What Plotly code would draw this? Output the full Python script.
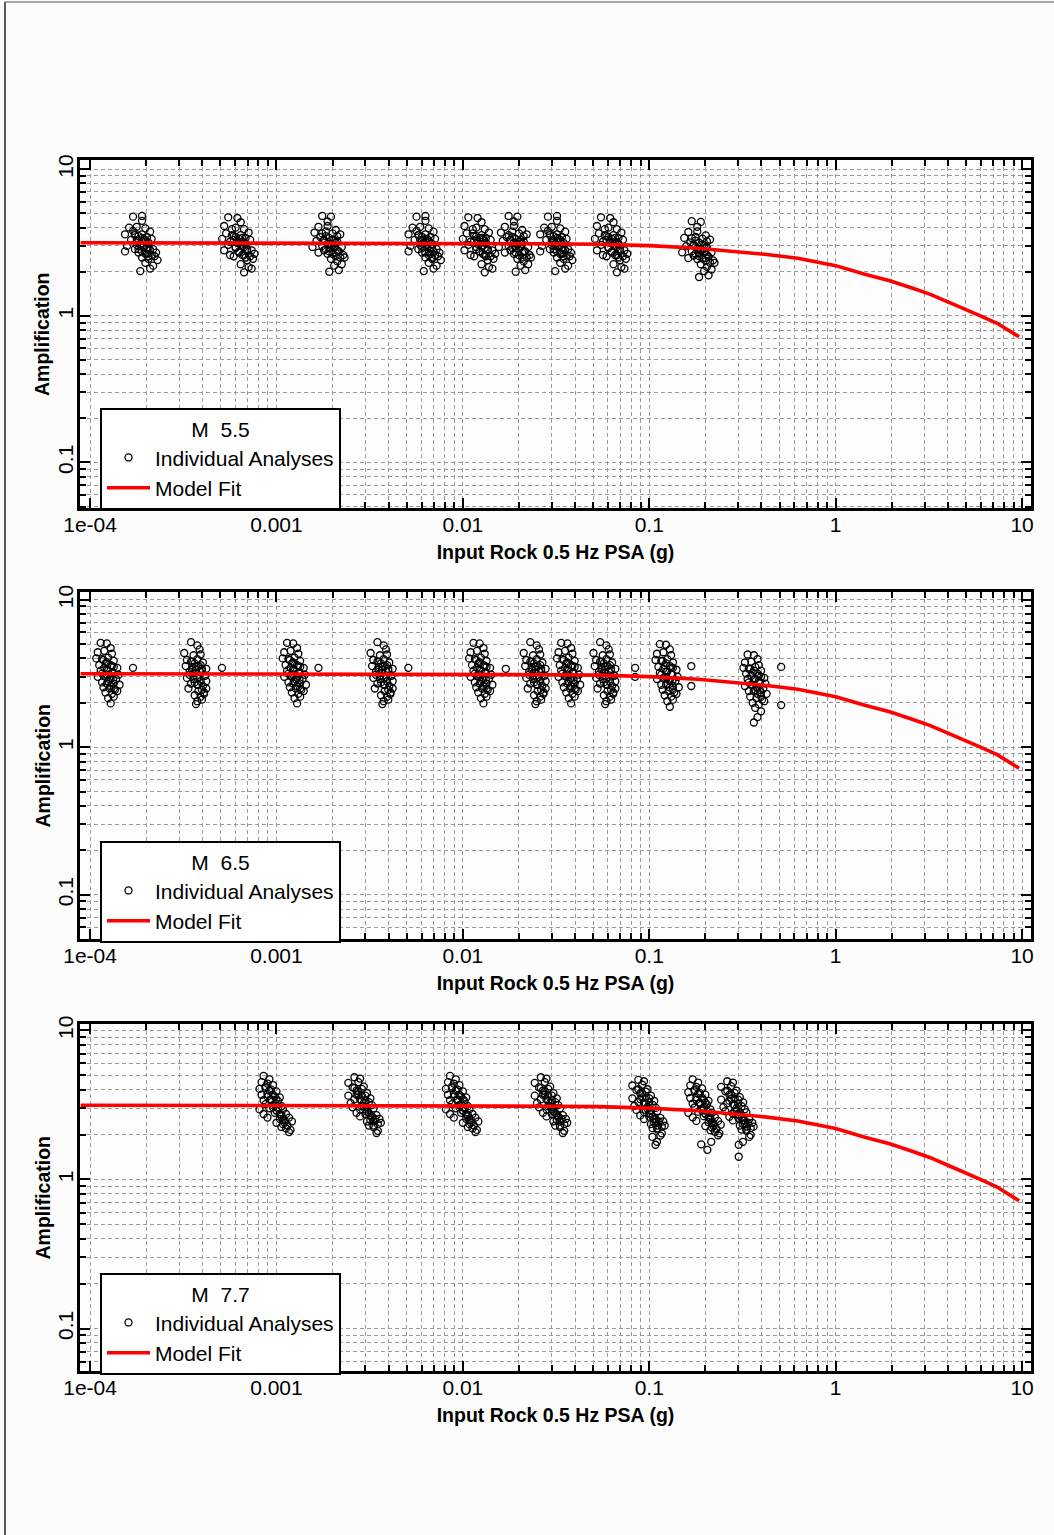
import plotly.graph_objects as go

# ---------------------------------------------------------------- axis ticks
PSA_TICK_VALS = [1e-4, 1e-3, 1e-2, 1e-1, 1, 10]
PSA_TICK_TEXT = ["1e-04", "0.001", "0.01", "0.1", "1", "10"]
AMP_TICK_VALS = [0.1, 1, 10]
AMP_TICK_TEXT = ["0.1", "1", "10"]
MINOR_DIGITS = [2, 3, 4, 5, 6, 7, 8, 9]
PSA_DECADES = [1e-4, 1e-3, 1e-2, 1e-1, 1]
AMP_DECADES = [0.01, 0.1, 1]

MAGNITUDES = ["5.5", "6.5", "7.7"]

# ---------------------------------------------------------------- model fit
FIT_PSA = [8.9e-5, 1e-3, 0.01, 0.03, 0.053, 0.1, 0.183, 0.3, 0.416, 0.626, 1.0,
           1.42, 1.97, 2.64, 3.22, 3.97, 4.9, 5.98, 7.35, 9.64]
FIT_AMP = [3.15, 3.14, 3.12, 3.10, 3.08, 3.01, 2.89, 2.75, 2.63, 2.47, 2.20,
           1.93, 1.73, 1.53, 1.40, 1.25, 1.12, 1.00, 0.89, 0.72]

# ---------------------------------------------------------------- M 5.5 analyses
M55_PSA = [
    1.70e-4, 1.90e-4, 1.90e-4, 1.62e-4, 1.78e-4, 1.98e-4, 2.10e-4, 1.54e-4, 1.74e-4, 1.90e-4, 2.02e-4, 1.66e-4,
    1.82e-4, 1.98e-4, 2.14e-4, 1.58e-4, 1.78e-4, 1.94e-4, 2.06e-4, 2.18e-4, 1.54e-4, 1.82e-4, 2.02e-4, 2.14e-4,
    2.26e-4, 1.90e-4, 2.06e-4, 2.22e-4, 1.98e-4, 2.18e-4, 1.86e-4, 2.10e-4, 2.30e-4, 1.70e-4, 1.94e-4, 1.74e-4,
    5.51e-4, 6.17e-4, 6.43e-4, 5.24e-4, 6.04e-4, 6.70e-4, 7.09e-4, 5.37e-4, 5.90e-4, 6.43e-4, 6.83e-4, 5.11e-4,
    6.17e-4, 6.70e-4, 7.23e-4, 5.51e-4, 6.04e-4, 6.56e-4, 6.96e-4, 7.36e-4, 5.24e-4, 6.30e-4, 6.70e-4, 7.23e-4,
    7.62e-4, 5.90e-4, 6.96e-4, 7.49e-4, 6.43e-4, 7.09e-4, 6.70e-4, 7.36e-4, 5.64e-4, 5.77e-4, 6.56e-4, 5.64e-4,
    1.76e-3, 1.96e-3, 1.88e-3, 1.68e-3, 1.88e-3, 2.08e-3, 2.20e-3, 1.60e-3, 1.72e-3, 2.00e-3, 2.12e-3, 1.64e-3,
    1.80e-3, 1.96e-3, 2.12e-3, 1.56e-3, 1.76e-3, 1.92e-3, 2.04e-3, 2.24e-3, 1.68e-3, 1.88e-3, 2.08e-3, 2.20e-3,
    2.28e-3, 1.96e-3, 2.12e-3, 2.32e-3, 2.04e-3, 2.24e-3, 1.92e-3, 2.16e-3, 1.84e-3, 2.04e-3, 1.80e-3, 2.16e-3,
    5.64e-3, 6.30e-3, 6.30e-3, 5.37e-3, 5.90e-3, 6.56e-3, 6.96e-3, 5.11e-3, 5.77e-3, 6.30e-3, 6.70e-3, 5.51e-3,
    6.04e-3, 6.56e-3, 7.09e-3, 5.24e-3, 5.90e-3, 6.43e-3, 6.83e-3, 7.23e-3, 5.11e-3, 6.04e-3, 6.70e-3, 7.09e-3,
    7.49e-3, 6.30e-3, 6.83e-3, 7.36e-3, 6.56e-3, 7.23e-3, 6.17e-3, 6.96e-3, 7.62e-3, 5.64e-3, 6.43e-3, 5.77e-3,
    1.07e-2, 1.20e-2, 1.26e-2, 1.02e-2, 1.18e-2, 1.31e-2, 1.38e-2, 1.05e-2, 1.15e-2, 1.26e-2, 1.33e-2, 1.00e-2,
    1.20e-2, 1.31e-2, 1.41e-2, 1.07e-2, 1.18e-2, 1.28e-2, 1.36e-2, 1.44e-2, 1.02e-2, 1.23e-2, 1.31e-2, 1.41e-2,
    1.49e-2, 1.15e-2, 1.36e-2, 1.46e-2, 1.26e-2, 1.38e-2, 1.31e-2, 1.44e-2, 1.10e-2, 1.13e-2, 1.28e-2, 1.10e-2,
    1.76e-2, 1.96e-2, 1.88e-2, 1.68e-2, 1.88e-2, 2.08e-2, 2.20e-2, 1.60e-2, 1.72e-2, 2.00e-2, 2.12e-2, 1.64e-2,
    1.80e-2, 1.96e-2, 2.12e-2, 1.56e-2, 1.76e-2, 1.92e-2, 2.04e-2, 2.24e-2, 1.68e-2, 1.88e-2, 2.08e-2, 2.20e-2,
    2.28e-2, 1.96e-2, 2.12e-2, 2.32e-2, 2.04e-2, 2.24e-2, 1.92e-2, 2.16e-2, 1.84e-2, 2.04e-2, 1.80e-2, 2.16e-2,
    2.86e-2, 3.20e-2, 3.20e-2, 2.73e-2, 3.00e-2, 3.33e-2, 3.54e-2, 2.60e-2, 2.93e-2, 3.20e-2, 3.40e-2, 2.80e-2,
    3.07e-2, 3.33e-2, 3.60e-2, 2.66e-2, 3.00e-2, 3.27e-2, 3.47e-2, 3.67e-2, 2.60e-2, 3.07e-2, 3.40e-2, 3.60e-2,
    3.80e-2, 3.20e-2, 3.47e-2, 3.74e-2, 3.33e-2, 3.67e-2, 3.13e-2, 3.54e-2, 3.87e-2, 2.86e-2, 3.27e-2, 2.93e-2,
    5.51e-2, 6.17e-2, 6.43e-2, 5.24e-2, 6.04e-2, 6.70e-2, 7.09e-2, 5.37e-2, 5.90e-2, 6.43e-2, 6.83e-2, 5.11e-2,
    6.17e-2, 6.70e-2, 7.23e-2, 5.51e-2, 6.04e-2, 6.56e-2, 6.96e-2, 7.36e-2, 5.24e-2, 6.30e-2, 6.70e-2, 7.23e-2,
    7.62e-2, 5.90e-2, 6.96e-2, 7.49e-2, 6.43e-2, 7.09e-2, 6.70e-2, 7.36e-2, 5.64e-2, 5.77e-2, 6.56e-2, 5.64e-2,
    1.69e-1, 1.89e-1, 1.81e-1, 1.62e-1, 1.81e-1, 2.01e-1, 2.12e-1, 1.54e-1, 1.66e-1, 1.93e-1, 2.04e-1, 1.58e-1,
    1.73e-1, 1.89e-1, 2.04e-1, 1.50e-1, 1.69e-1, 1.85e-1, 1.97e-1, 2.16e-1, 1.62e-1, 1.81e-1, 2.01e-1, 2.12e-1,
    2.20e-1, 1.89e-1, 2.04e-1, 2.24e-1, 1.97e-1, 2.16e-1, 1.85e-1, 2.08e-1, 1.77e-1, 1.97e-1, 1.73e-1, 2.08e-1,
    # dense cores of each group
    1.74e-4, 1.82e-4, 1.90e-4, 1.98e-4, 2.06e-4, 1.78e-4, 1.86e-4, 1.94e-4, 2.02e-4, 2.10e-4, 1.82e-4, 1.90e-4, 1.98e-4, 2.06e-4,
    5.77e-4, 6.04e-4, 6.30e-4, 6.56e-4, 6.83e-4, 5.90e-4, 6.17e-4, 6.43e-4, 6.70e-4, 6.96e-4, 6.04e-4, 6.30e-4, 6.56e-4, 6.83e-4,
    1.76e-3, 1.84e-3, 1.92e-3, 2.00e-3, 2.08e-3, 1.80e-3, 1.88e-3, 1.96e-3, 2.04e-3, 2.12e-3, 1.84e-3, 1.92e-3, 2.00e-3, 2.08e-3,
    5.77e-3, 6.04e-3, 6.30e-3, 6.56e-3, 6.83e-3, 5.90e-3, 6.17e-3, 6.43e-3, 6.70e-3, 6.96e-3, 6.04e-3, 6.30e-3, 6.56e-3, 6.83e-3,
    1.13e-2, 1.18e-2, 1.23e-2, 1.28e-2, 1.33e-2, 1.15e-2, 1.20e-2, 1.26e-2, 1.31e-2, 1.36e-2, 1.18e-2, 1.23e-2, 1.28e-2, 1.33e-2,
    1.76e-2, 1.84e-2, 1.92e-2, 2.00e-2, 2.08e-2, 1.80e-2, 1.88e-2, 1.96e-2, 2.04e-2, 2.12e-2, 1.84e-2, 1.92e-2, 2.00e-2, 2.08e-2,
    2.93e-2, 3.07e-2, 3.20e-2, 3.33e-2, 3.47e-2, 3.00e-2, 3.13e-2, 3.27e-2, 3.40e-2, 3.54e-2, 3.07e-2, 3.20e-2, 3.33e-2, 3.47e-2,
    5.77e-2, 6.04e-2, 6.30e-2, 6.56e-2, 6.83e-2, 5.90e-2, 6.17e-2, 6.43e-2, 6.70e-2, 6.96e-2, 6.04e-2, 6.30e-2, 6.56e-2, 6.83e-2,
    1.69e-1, 1.77e-1, 1.85e-1, 1.93e-1, 2.01e-1, 1.73e-1, 1.81e-1, 1.89e-1, 1.97e-1, 2.04e-1, 1.77e-1, 1.85e-1, 1.93e-1, 2.01e-1,
]
M55_AMP = [
    4.75, 4.80, 4.45, 4.00, 4.05, 3.95, 3.75, 3.60, 3.55, 3.60, 3.45, 3.30,
    3.25, 3.20, 3.35, 3.00, 3.05, 2.95, 2.90, 2.85, 2.75, 2.70, 2.65, 2.60,
    2.70, 2.50, 2.45, 2.55, 2.30, 2.20, 2.02, 2.10, 2.40, 3.80, 3.35, 2.85,
    4.70, 4.65, 4.35, 4.10, 4.00, 3.90, 3.70, 3.65, 3.50, 3.55, 3.40, 3.35,
    3.20, 3.15, 3.30, 3.05, 2.95, 3.00, 2.85, 2.80, 2.80, 2.75, 2.60, 2.55,
    2.65, 2.55, 2.40, 2.45, 2.25, 2.15, 1.98, 2.10, 2.60, 3.90, 3.40, 3.20,
    4.80, 4.75, 4.40, 4.05, 4.10, 3.85, 3.60, 3.70, 3.45, 3.65, 3.50, 3.25,
    3.30, 3.10, 3.20, 2.95, 3.00, 2.90, 2.95, 2.95, 2.70, 2.65, 2.70, 2.50,
    2.60, 2.45, 2.35, 2.50, 2.20, 2.25, 2.00, 2.05, 3.75, 3.30, 2.80, 2.75,
    4.75, 4.80, 4.45, 4.00, 4.05, 3.95, 3.75, 3.60, 3.55, 3.60, 3.45, 3.30,
    3.25, 3.20, 3.35, 3.00, 3.05, 2.95, 2.90, 2.85, 2.75, 2.70, 2.65, 2.60,
    2.70, 2.50, 2.45, 2.55, 2.30, 2.20, 2.02, 2.10, 2.40, 3.80, 3.35, 2.85,
    4.70, 4.65, 4.35, 4.10, 4.00, 3.90, 3.70, 3.65, 3.50, 3.55, 3.40, 3.35,
    3.20, 3.15, 3.30, 3.05, 2.95, 3.00, 2.85, 2.80, 2.80, 2.75, 2.60, 2.55,
    2.65, 2.55, 2.40, 2.45, 2.25, 2.15, 1.98, 2.10, 2.60, 3.90, 3.40, 3.20,
    4.80, 4.75, 4.40, 4.05, 4.10, 3.85, 3.60, 3.70, 3.45, 3.65, 3.50, 3.25,
    3.30, 3.10, 3.20, 2.95, 3.00, 2.90, 2.95, 2.95, 2.70, 2.65, 2.70, 2.50,
    2.60, 2.45, 2.35, 2.50, 2.20, 2.25, 2.00, 2.05, 3.75, 3.30, 2.80, 2.75,
    4.75, 4.80, 4.45, 4.00, 4.05, 3.95, 3.75, 3.60, 3.55, 3.60, 3.45, 3.30,
    3.25, 3.20, 3.35, 3.00, 3.05, 2.95, 2.90, 2.85, 2.75, 2.70, 2.65, 2.60,
    2.70, 2.50, 2.45, 2.55, 2.30, 2.20, 2.02, 2.10, 2.40, 3.80, 3.35, 2.85,
    4.70, 4.65, 4.35, 4.10, 4.00, 3.90, 3.70, 3.65, 3.50, 3.55, 3.40, 3.35,
    3.20, 3.15, 3.30, 3.05, 2.95, 3.00, 2.85, 2.80, 2.80, 2.75, 2.60, 2.55,
    2.65, 2.55, 2.40, 2.45, 2.25, 2.15, 1.98, 2.10, 2.60, 3.90, 3.40, 3.20,
    4.42, 4.37, 4.05, 3.73, 3.77, 3.54, 3.31, 3.40, 3.17, 3.36, 3.22, 2.99,
    3.04, 2.85, 2.94, 2.71, 2.76, 2.67, 2.71, 2.71, 2.48, 2.44, 2.48, 2.30,
    2.39, 2.25, 2.16, 2.30, 2.02, 2.07, 1.84, 1.89, 3.45, 3.04, 2.58, 2.53,
    # dense cores of each group
    3.65, 3.50, 3.40, 3.30, 3.15, 3.25, 3.10, 3.00, 2.90, 2.80, 2.85, 2.75, 2.65, 2.55,
    3.55, 3.45, 3.35, 3.20, 3.10, 3.30, 3.15, 3.05, 2.95, 2.75, 2.90, 2.70, 2.60, 2.50,
    3.65, 3.50, 3.40, 3.30, 3.15, 3.25, 3.10, 3.00, 2.90, 2.80, 2.85, 2.75, 2.65, 2.55,
    3.55, 3.45, 3.35, 3.20, 3.10, 3.30, 3.15, 3.05, 2.95, 2.75, 2.90, 2.70, 2.60, 2.50,
    3.65, 3.50, 3.40, 3.30, 3.15, 3.25, 3.10, 3.00, 2.90, 2.80, 2.85, 2.75, 2.65, 2.55,
    3.55, 3.45, 3.35, 3.20, 3.10, 3.30, 3.15, 3.05, 2.95, 2.75, 2.90, 2.70, 2.60, 2.50,
    3.65, 3.50, 3.40, 3.30, 3.15, 3.25, 3.10, 3.00, 2.90, 2.80, 2.85, 2.75, 2.65, 2.55,
    3.55, 3.45, 3.35, 3.20, 3.10, 3.30, 3.15, 3.05, 2.95, 2.75, 2.90, 2.70, 2.60, 2.50,
    3.39, 3.26, 3.16, 3.07, 2.93, 3.02, 2.88, 2.79, 2.70, 2.60, 2.65, 2.56, 2.46, 2.37,
]

# ---------------------------------------------------------------- M 6.5 analyses
M65_PSA = [
    1.14e-4, 1.23e-4, 1.29e-4, 1.10e-4, 1.19e-4, 1.31e-4, 1.08e-4, 1.16e-4, 1.25e-4, 1.34e-4, 1.12e-4, 1.21e-4,
    1.31e-4, 1.40e-4, 1.14e-4, 1.23e-4, 1.33e-4, 1.42e-4, 1.10e-4, 1.19e-4, 1.29e-4, 1.38e-4, 1.16e-4, 1.25e-4,
    1.34e-4, 1.44e-4, 1.18e-4, 1.27e-4, 1.36e-4, 1.21e-4, 1.31e-4, 1.40e-4, 1.25e-4, 1.34e-4, 1.29e-4, 1.23e-4,
    3.48e-4, 3.76e-4, 3.87e-4, 3.20e-4, 3.59e-4, 3.92e-4, 3.31e-4, 3.53e-4, 3.76e-4, 4.03e-4, 3.26e-4, 3.70e-4,
    3.92e-4, 4.20e-4, 3.42e-4, 3.64e-4, 3.98e-4, 4.14e-4, 3.31e-4, 3.59e-4, 3.87e-4, 4.20e-4, 3.48e-4, 3.76e-4,
    4.03e-4, 4.20e-4, 3.37e-4, 3.81e-4, 4.09e-4, 3.64e-4, 3.92e-4, 4.09e-4, 3.76e-4, 3.98e-4, 3.70e-4, 3.53e-4,
    1.14e-3, 1.23e-3, 1.29e-3, 1.10e-3, 1.19e-3, 1.31e-3, 1.08e-3, 1.16e-3, 1.25e-3, 1.34e-3, 1.12e-3, 1.21e-3,
    1.31e-3, 1.40e-3, 1.14e-3, 1.23e-3, 1.33e-3, 1.42e-3, 1.10e-3, 1.19e-3, 1.29e-3, 1.38e-3, 1.16e-3, 1.25e-3,
    1.34e-3, 1.44e-3, 1.18e-3, 1.27e-3, 1.36e-3, 1.21e-3, 1.31e-3, 1.40e-3, 1.25e-3, 1.34e-3, 1.29e-3, 1.23e-3,
    3.48e-3, 3.76e-3, 3.87e-3, 3.20e-3, 3.59e-3, 3.92e-3, 3.31e-3, 3.53e-3, 3.76e-3, 4.03e-3, 3.26e-3, 3.70e-3,
    3.92e-3, 4.20e-3, 3.42e-3, 3.64e-3, 3.98e-3, 4.14e-3, 3.31e-3, 3.59e-3, 3.87e-3, 4.20e-3, 3.48e-3, 3.76e-3,
    4.03e-3, 4.20e-3, 3.37e-3, 3.81e-3, 4.09e-3, 3.64e-3, 3.92e-3, 4.09e-3, 3.76e-3, 3.98e-3, 3.70e-3, 3.53e-3,
    1.14e-2, 1.23e-2, 1.29e-2, 1.10e-2, 1.19e-2, 1.31e-2, 1.08e-2, 1.16e-2, 1.25e-2, 1.34e-2, 1.12e-2, 1.21e-2,
    1.31e-2, 1.40e-2, 1.14e-2, 1.23e-2, 1.33e-2, 1.42e-2, 1.10e-2, 1.19e-2, 1.29e-2, 1.38e-2, 1.16e-2, 1.25e-2,
    1.34e-2, 1.44e-2, 1.18e-2, 1.27e-2, 1.36e-2, 1.21e-2, 1.31e-2, 1.40e-2, 1.25e-2, 1.34e-2, 1.29e-2, 1.23e-2,
    2.30e-2, 2.49e-2, 2.56e-2, 2.12e-2, 2.38e-2, 2.60e-2, 2.19e-2, 2.34e-2, 2.49e-2, 2.67e-2, 2.16e-2, 2.45e-2,
    2.60e-2, 2.78e-2, 2.27e-2, 2.41e-2, 2.63e-2, 2.74e-2, 2.19e-2, 2.38e-2, 2.56e-2, 2.78e-2, 2.30e-2, 2.49e-2,
    2.67e-2, 2.78e-2, 2.23e-2, 2.52e-2, 2.71e-2, 2.41e-2, 2.60e-2, 2.71e-2, 2.49e-2, 2.63e-2, 2.45e-2, 2.34e-2,
    3.37e-2, 3.64e-2, 3.81e-2, 3.26e-2, 3.53e-2, 3.87e-2, 3.20e-2, 3.42e-2, 3.70e-2, 3.98e-2, 3.31e-2, 3.59e-2,
    3.87e-2, 4.14e-2, 3.37e-2, 3.64e-2, 3.92e-2, 4.20e-2, 3.26e-2, 3.53e-2, 3.81e-2, 4.09e-2, 3.42e-2, 3.70e-2,
    3.98e-2, 4.26e-2, 3.48e-2, 3.76e-2, 4.03e-2, 3.59e-2, 3.87e-2, 4.14e-2, 3.70e-2, 3.98e-2, 3.81e-2, 3.64e-2,
    5.45e-2, 5.89e-2, 6.06e-2, 5.02e-2, 5.63e-2, 6.15e-2, 5.19e-2, 5.54e-2, 5.89e-2, 6.32e-2, 5.10e-2, 5.80e-2,
    6.15e-2, 6.58e-2, 5.37e-2, 5.71e-2, 6.24e-2, 6.50e-2, 5.19e-2, 5.63e-2, 6.06e-2, 6.58e-2, 5.45e-2, 5.89e-2,
    6.32e-2, 6.58e-2, 5.28e-2, 5.97e-2, 6.41e-2, 5.71e-2, 6.15e-2, 6.41e-2, 5.89e-2, 6.24e-2, 5.80e-2, 5.54e-2,
    1.14e-1, 1.23e-1, 1.29e-1, 1.10e-1, 1.19e-1, 1.31e-1, 1.08e-1, 1.16e-1, 1.25e-1, 1.34e-1, 1.12e-1, 1.21e-1,
    1.31e-1, 1.40e-1, 1.14e-1, 1.23e-1, 1.33e-1, 1.42e-1, 1.10e-1, 1.19e-1, 1.29e-1, 1.38e-1, 1.16e-1, 1.25e-1,
    1.34e-1, 1.44e-1, 1.18e-1, 1.27e-1, 1.36e-1, 1.21e-1, 1.31e-1, 1.40e-1, 1.25e-1, 1.34e-1, 1.29e-1, 1.23e-1,
    3.37e-1, 3.64e-1, 3.81e-1, 3.26e-1, 3.53e-1, 3.87e-1, 3.20e-1, 3.42e-1, 3.70e-1, 3.98e-1, 3.31e-1, 3.59e-1,
    3.87e-1, 4.14e-1, 3.37e-1, 3.64e-1, 3.92e-1, 4.20e-1, 3.26e-1, 3.53e-1, 3.81e-1, 4.09e-1, 3.42e-1, 3.70e-1,
    3.98e-1, 4.26e-1, 3.48e-1, 3.76e-1, 4.03e-1, 3.59e-1, 3.87e-1, 4.14e-1, 3.70e-1, 3.98e-1, 3.81e-1, 3.64e-1,
    # isolated analyses beside the groups
    1.70e-4, 5.10e-4, 1.68e-3, 5.10e-3, 1.70e-2, 8.40e-2, 8.40e-2, 1.68e-1, 1.68e-1, 5.10e-1, 5.10e-1,
    # dense cores of each group
    1.18e-4, 1.23e-4, 1.29e-4, 1.34e-4, 1.19e-4, 1.25e-4, 1.31e-4, 1.16e-4, 1.21e-4, 1.27e-4, 1.33e-4, 1.23e-4, 1.29e-4, 1.34e-4,
    3.48e-4, 3.64e-4, 3.81e-4, 3.98e-4, 3.53e-4, 3.70e-4, 3.87e-4, 3.42e-4, 3.59e-4, 3.76e-4, 3.92e-4, 3.64e-4, 3.81e-4, 3.98e-4,
    1.18e-3, 1.23e-3, 1.29e-3, 1.34e-3, 1.19e-3, 1.25e-3, 1.31e-3, 1.16e-3, 1.21e-3, 1.27e-3, 1.33e-3, 1.23e-3, 1.29e-3, 1.34e-3,
    3.48e-3, 3.64e-3, 3.81e-3, 3.98e-3, 3.53e-3, 3.70e-3, 3.87e-3, 3.42e-3, 3.59e-3, 3.76e-3, 3.92e-3, 3.64e-3, 3.81e-3, 3.98e-3,
    1.18e-2, 1.23e-2, 1.29e-2, 1.34e-2, 1.19e-2, 1.25e-2, 1.31e-2, 1.16e-2, 1.21e-2, 1.27e-2, 1.33e-2, 1.23e-2, 1.29e-2, 1.34e-2,
    2.30e-2, 2.41e-2, 2.52e-2, 2.63e-2, 2.34e-2, 2.45e-2, 2.56e-2, 2.27e-2, 2.38e-2, 2.49e-2, 2.60e-2, 2.41e-2, 2.52e-2, 2.63e-2,
    3.48e-2, 3.64e-2, 3.81e-2, 3.98e-2, 3.53e-2, 3.70e-2, 3.87e-2, 3.42e-2, 3.59e-2, 3.76e-2, 3.92e-2, 3.64e-2, 3.81e-2, 3.98e-2,
    5.45e-2, 5.71e-2, 5.97e-2, 6.24e-2, 5.54e-2, 5.80e-2, 6.06e-2, 5.37e-2, 5.63e-2, 5.89e-2, 6.15e-2, 5.71e-2, 5.97e-2, 6.24e-2,
    1.18e-1, 1.23e-1, 1.29e-1, 1.34e-1, 1.19e-1, 1.25e-1, 1.31e-1, 1.16e-1, 1.21e-1, 1.27e-1, 1.33e-1, 1.23e-1, 1.29e-1, 1.34e-1,
    3.48e-1, 3.64e-1, 3.81e-1, 3.98e-1, 3.53e-1, 3.70e-1, 3.87e-1, 3.42e-1, 3.59e-1, 3.76e-1, 3.92e-1, 3.64e-1, 3.81e-1, 3.98e-1,
]
M65_AMP = [
    5.10, 5.05, 4.70, 4.40, 4.50, 4.30, 4.00, 3.95, 4.05, 3.85, 3.60, 3.70,
    3.55, 3.45, 3.30, 3.35, 3.20, 3.10, 3.00, 3.05, 2.95, 2.90, 2.75, 2.80,
    2.70, 2.65, 2.55, 2.50, 2.45, 2.35, 2.30, 2.40, 2.15, 2.20, 1.98, 3.10,
    5.15, 4.90, 4.60, 4.35, 4.20, 4.25, 3.90, 3.80, 3.95, 3.75, 3.55, 3.50,
    3.60, 3.40, 3.25, 3.20, 3.30, 3.05, 2.95, 2.90, 3.00, 2.80, 2.70, 2.65,
    2.60, 2.50, 2.50, 2.40, 2.35, 2.25, 2.20, 2.30, 2.05, 2.10, 1.96, 3.35,
    5.10, 5.05, 4.70, 4.40, 4.50, 4.30, 4.00, 3.95, 4.05, 3.85, 3.60, 3.70,
    3.55, 3.45, 3.30, 3.35, 3.20, 3.10, 3.00, 3.05, 2.95, 2.90, 2.75, 2.80,
    2.70, 2.65, 2.55, 2.50, 2.45, 2.35, 2.30, 2.40, 2.15, 2.20, 1.98, 3.10,
    5.15, 4.90, 4.60, 4.35, 4.20, 4.25, 3.90, 3.80, 3.95, 3.75, 3.55, 3.50,
    3.60, 3.40, 3.25, 3.20, 3.30, 3.05, 2.95, 2.90, 3.00, 2.80, 2.70, 2.65,
    2.60, 2.50, 2.50, 2.40, 2.35, 2.25, 2.20, 2.30, 2.05, 2.10, 1.96, 3.35,
    5.10, 5.05, 4.70, 4.40, 4.50, 4.30, 4.00, 3.95, 4.05, 3.85, 3.60, 3.70,
    3.55, 3.45, 3.30, 3.35, 3.20, 3.10, 3.00, 3.05, 2.95, 2.90, 2.75, 2.80,
    2.70, 2.65, 2.55, 2.50, 2.45, 2.35, 2.30, 2.40, 2.15, 2.20, 1.98, 3.10,
    5.15, 4.90, 4.60, 4.35, 4.20, 4.25, 3.90, 3.80, 3.95, 3.75, 3.55, 3.50,
    3.60, 3.40, 3.25, 3.20, 3.30, 3.05, 2.95, 2.90, 3.00, 2.80, 2.70, 2.65,
    2.60, 2.50, 2.50, 2.40, 2.35, 2.25, 2.20, 2.30, 2.05, 2.10, 1.96, 3.35,
    5.10, 5.05, 4.70, 4.40, 4.50, 4.30, 4.00, 3.95, 4.05, 3.85, 3.60, 3.70,
    3.55, 3.45, 3.30, 3.35, 3.20, 3.10, 3.00, 3.05, 2.95, 2.90, 2.75, 2.80,
    2.70, 2.65, 2.55, 2.50, 2.45, 2.35, 2.30, 2.40, 2.15, 2.20, 1.98, 3.10,
    5.15, 4.90, 4.60, 4.35, 4.20, 4.25, 3.90, 3.80, 3.95, 3.75, 3.55, 3.50,
    3.60, 3.40, 3.25, 3.20, 3.30, 3.05, 2.95, 2.90, 3.00, 2.80, 2.70, 2.65,
    2.60, 2.50, 2.50, 2.40, 2.35, 2.25, 2.20, 2.30, 2.05, 2.10, 1.96, 3.35,
    5.00, 4.95, 4.60, 4.30, 4.40, 4.20, 3.90, 3.85, 3.95, 3.75, 3.50, 3.60,
    3.45, 3.35, 3.20, 3.25, 3.10, 3.00, 2.90, 2.95, 2.85, 2.80, 2.65, 2.70,
    2.60, 2.55, 2.45, 2.40, 2.35, 2.25, 2.20, 2.30, 2.05, 2.10, 1.88, 3.00,
    4.25, 4.20, 3.95, 3.75, 3.80, 3.60, 3.45, 3.40, 3.50, 3.30, 3.15, 3.20,
    3.05, 2.95, 2.90, 2.85, 2.75, 2.70, 2.60, 2.65, 2.55, 2.50, 2.40, 2.45,
    2.35, 2.30, 2.20, 2.15, 2.10, 2.00, 1.95, 2.05, 1.85, 1.75, 1.60, 1.47,
    # isolated analyses beside the groups
    3.45, 3.45, 3.45, 3.45, 3.40, 3.45, 3.00, 3.55, 2.60, 3.50, 1.93,
    # dense cores of each group
    3.90, 3.75, 3.60, 3.50, 3.45, 3.30, 3.20, 3.15, 3.00, 2.90, 2.85, 2.70, 2.60, 2.50,
    3.80, 3.70, 3.55, 3.40, 3.50, 3.35, 3.25, 3.10, 3.05, 2.95, 2.80, 2.75, 2.65, 2.45,
    3.90, 3.75, 3.60, 3.50, 3.45, 3.30, 3.20, 3.15, 3.00, 2.90, 2.85, 2.70, 2.60, 2.50,
    3.80, 3.70, 3.55, 3.40, 3.50, 3.35, 3.25, 3.10, 3.05, 2.95, 2.80, 2.75, 2.65, 2.45,
    3.90, 3.75, 3.60, 3.50, 3.45, 3.30, 3.20, 3.15, 3.00, 2.90, 2.85, 2.70, 2.60, 2.50,
    3.80, 3.70, 3.55, 3.40, 3.50, 3.35, 3.25, 3.10, 3.05, 2.95, 2.80, 2.75, 2.65, 2.45,
    3.90, 3.75, 3.60, 3.50, 3.45, 3.30, 3.20, 3.15, 3.00, 2.90, 2.85, 2.70, 2.60, 2.50,
    3.80, 3.70, 3.55, 3.40, 3.50, 3.35, 3.25, 3.10, 3.05, 2.95, 2.80, 2.75, 2.65, 2.45,
    3.85, 3.70, 3.55, 3.45, 3.40, 3.25, 3.15, 3.10, 2.95, 2.85, 2.80, 2.65, 2.55, 2.45,
    3.40, 3.30, 3.15, 3.00, 3.05, 2.90, 2.80, 2.75, 2.65, 2.55, 2.45, 2.40, 2.30, 2.20,
]

# ---------------------------------------------------------------- M 7.7 analyses
M77_PSA = [
    8.53e-4, 9.16e-4, 8.32e-4, 8.95e-4, 9.58e-4, 8.11e-4, 8.74e-4, 9.37e-4, 1.00e-3, 8.32e-4, 8.95e-4, 9.79e-4, 1.042e-3,
    8.53e-4, 9.37e-4, 1.021e-3, 8.74e-4, 9.58e-4, 1.063e-3, 8.11e-4, 9.16e-4, 1.00e-3, 1.084e-3, 8.53e-4, 9.79e-4, 1.063e-3,
    1.126e-3, 8.95e-4, 1.042e-3, 1.105e-3, 1.168e-3, 1.00e-3, 1.084e-3, 1.147e-3, 1.21e-3, 1.126e-3, 1.189e-3, 1.063e-3, 1.168e-3,
    2.62e-3, 2.81e-3, 2.43e-3, 2.75e-3, 2.94e-3, 2.56e-3, 2.69e-3, 2.87e-3, 3.06e-3, 2.43e-3, 2.75e-3, 3.00e-3, 3.19e-3,
    2.62e-3, 2.87e-3, 3.13e-3, 2.50e-3, 2.94e-3, 3.25e-3, 2.56e-3, 2.81e-3, 3.06e-3, 3.32e-3, 2.69e-3, 3.00e-3, 3.25e-3,
    3.44e-3, 2.81e-3, 3.19e-3, 3.38e-3, 3.57e-3, 3.06e-3, 3.32e-3, 3.50e-3, 3.63e-3, 3.32e-3, 3.50e-3, 3.13e-3, 3.44e-3,
    8.53e-3, 9.16e-3, 8.32e-3, 8.95e-3, 9.58e-3, 8.11e-3, 8.74e-3, 9.37e-3, 1.00e-2, 8.32e-3, 8.95e-3, 9.79e-3, 1.042e-2,
    8.53e-3, 9.37e-3, 1.021e-2, 8.74e-3, 9.58e-3, 1.063e-2, 8.11e-3, 9.16e-3, 1.00e-2, 1.084e-2, 8.53e-3, 9.79e-3, 1.063e-2,
    1.126e-2, 8.95e-3, 1.042e-2, 1.105e-2, 1.168e-2, 1.00e-2, 1.084e-2, 1.147e-2, 1.21e-2, 1.126e-2, 1.189e-2, 1.063e-2, 1.168e-2,
    2.62e-2, 2.81e-2, 2.43e-2, 2.75e-2, 2.94e-2, 2.56e-2, 2.69e-2, 2.87e-2, 3.06e-2, 2.43e-2, 2.75e-2, 3.00e-2, 3.19e-2,
    2.62e-2, 2.87e-2, 3.13e-2, 2.50e-2, 2.94e-2, 3.25e-2, 2.56e-2, 2.81e-2, 3.06e-2, 3.32e-2, 2.69e-2, 3.00e-2, 3.25e-2,
    3.44e-2, 2.81e-2, 3.19e-2, 3.38e-2, 3.57e-2, 3.06e-2, 3.32e-2, 3.50e-2, 3.63e-2, 3.32e-2, 3.50e-2, 3.13e-2, 3.44e-2,
    0.0874, 0.0937, 0.0811, 0.0916, 0.0979, 0.0853, 0.0895, 0.0958, 0.1021, 0.0811, 0.0916, 0.1000, 0.1063,
    0.0874, 0.0958, 0.1042, 0.0832, 0.0979, 0.1084, 0.0853, 0.0937, 0.1021, 0.1105, 0.0895, 0.1000, 0.1084,
    0.1147, 0.0937, 0.1063, 0.1126, 0.1189, 0.1021, 0.1105, 0.1168, 0.1210, 0.1105, 0.1168, 0.1042, 0.1147,
    0.171, 0.183, 0.166, 0.179, 0.192, 0.162, 0.175, 0.187, 0.200, 0.166, 0.179, 0.196, 0.208,
    0.171, 0.187, 0.204, 0.175, 0.192, 0.213, 0.162, 0.183, 0.200, 0.217, 0.171, 0.196, 0.213,
    0.225, 0.179, 0.208, 0.221, 0.234, 0.200, 0.217, 0.229, 0.242, 0.225, 0.238, 0.213, 0.234,
    0.262, 0.281, 0.243, 0.275, 0.294, 0.256, 0.269, 0.287, 0.306, 0.243, 0.275, 0.300, 0.319,
    0.262, 0.287, 0.313, 0.250, 0.294, 0.325, 0.256, 0.281, 0.306, 0.332, 0.269, 0.300, 0.325,
    0.344, 0.281, 0.319, 0.338, 0.357, 0.306, 0.332, 0.350, 0.363, 0.332, 0.350, 0.313, 0.344,
    # low outliers of the strongest inputs
    0.104, 0.110, 0.108, 0.205, 0.215, 0.190, 0.302, 0.302, 0.318,
    # dense cores of each group
    8.74e-4, 9.16e-4, 9.58e-4, 1.000e-3, 8.95e-4, 9.37e-4, 9.79e-4, 1.021e-3, 9.58e-4, 1.000e-3, 1.042e-3, 1.084e-3, 1.063e-3, 1.105e-3,
    2.62e-3, 2.75e-3, 2.87e-3, 3.00e-3, 2.69e-3, 2.81e-3, 2.94e-3, 3.06e-3, 2.87e-3, 3.00e-3, 3.13e-3, 3.25e-3, 3.19e-3, 3.32e-3,
    8.74e-3, 9.16e-3, 9.58e-3, 1.000e-2, 8.95e-3, 9.37e-3, 9.79e-3, 1.021e-2, 9.58e-3, 1.000e-2, 1.042e-2, 1.084e-2, 1.063e-2, 1.105e-2,
    2.62e-2, 2.75e-2, 2.87e-2, 3.00e-2, 2.69e-2, 2.81e-2, 2.94e-2, 3.06e-2, 2.87e-2, 3.00e-2, 3.13e-2, 3.25e-2, 3.19e-2, 3.32e-2,
    0.0874, 0.0916, 0.0958, 0.1000, 0.0895, 0.0937, 0.0979, 0.1021, 0.0958, 0.1000, 0.1042, 0.1084, 0.1063, 0.1105,
    0.175, 0.183, 0.192, 0.200, 0.179, 0.187, 0.196, 0.204, 0.192, 0.200, 0.208, 0.217, 0.213, 0.221,
    0.262, 0.275, 0.287, 0.300, 0.269, 0.281, 0.294, 0.306, 0.287, 0.300, 0.313, 0.325, 0.319, 0.332,
]
M77_AMP = [
    4.95, 4.70, 4.50, 4.40, 4.30, 4.05, 4.10, 4.00, 3.90, 3.70, 3.75, 3.60, 3.55,
    3.40, 3.45, 3.35, 3.20, 3.15, 3.10, 2.95, 3.00, 2.90, 2.95, 2.75, 2.80, 2.70,
    2.75, 2.60, 2.55, 2.50, 2.60, 2.40, 2.35, 2.30, 2.45, 2.20, 2.15, 2.25, 2.08,
    4.85, 4.75, 4.45, 4.50, 4.20, 4.15, 3.95, 4.05, 3.80, 3.65, 3.70, 3.65, 3.50,
    3.45, 3.35, 3.30, 3.25, 3.10, 3.15, 3.05, 2.95, 2.85, 3.00, 2.80, 2.75, 2.65,
    2.70, 2.65, 2.50, 2.55, 2.55, 2.45, 2.30, 2.35, 2.40, 2.25, 2.12, 2.30, 2.05,
    4.95, 4.70, 4.50, 4.40, 4.30, 4.05, 4.10, 4.00, 3.90, 3.70, 3.75, 3.60, 3.55,
    3.40, 3.45, 3.35, 3.20, 3.15, 3.10, 2.95, 3.00, 2.90, 2.95, 2.75, 2.80, 2.70,
    2.75, 2.60, 2.55, 2.50, 2.60, 2.40, 2.35, 2.30, 2.45, 2.20, 2.15, 2.25, 2.08,
    4.85, 4.75, 4.45, 4.50, 4.20, 4.15, 3.95, 4.05, 3.80, 3.65, 3.70, 3.65, 3.50,
    3.45, 3.35, 3.30, 3.25, 3.10, 3.15, 3.05, 2.95, 2.85, 3.00, 2.80, 2.75, 2.65,
    2.70, 2.65, 2.50, 2.55, 2.55, 2.45, 2.30, 2.35, 2.40, 2.25, 2.12, 2.30, 2.05,
    4.66, 4.56, 4.27, 4.32, 4.03, 3.98, 3.79, 3.89, 3.65, 3.50, 3.55, 3.50, 3.36,
    3.31, 3.22, 3.17, 3.12, 2.98, 3.02, 2.93, 2.83, 2.74, 2.88, 2.69, 2.64, 2.54,
    2.59, 2.54, 2.40, 2.45, 2.45, 2.35, 2.21, 2.26, 2.30, 2.16, 2.04, 2.21, 1.97,
    4.70, 4.47, 4.28, 4.18, 4.09, 3.85, 3.90, 3.80, 3.71, 3.52, 3.56, 3.42, 3.37,
    3.23, 3.28, 3.18, 3.04, 2.99, 2.95, 2.80, 2.85, 2.76, 2.80, 2.61, 2.66, 2.57,
    2.61, 2.47, 2.42, 2.38, 2.47, 2.28, 2.23, 2.19, 2.33, 2.09, 2.04, 2.14, 1.98,
    4.56, 4.47, 4.18, 4.23, 3.95, 3.90, 3.71, 3.81, 3.57, 3.43, 3.48, 3.43, 3.29,
    3.24, 3.15, 3.10, 3.06, 2.91, 2.96, 2.87, 2.77, 2.68, 2.82, 2.63, 2.59, 2.49,
    2.54, 2.49, 2.35, 2.40, 2.40, 2.30, 2.16, 2.21, 2.26, 2.12, 1.99, 2.16, 1.93,
    # low outliers of the strongest inputs
    1.93, 1.79, 1.71, 1.58, 1.79, 1.72, 1.42, 1.71, 1.79,
    # dense cores of each group
    4.20, 3.95, 3.70, 3.45, 3.60, 3.40, 3.20, 3.00, 3.05, 2.90, 2.75, 2.55, 2.65, 2.40,
    4.10, 3.90, 3.65, 3.40, 3.70, 3.45, 3.25, 3.05, 3.10, 2.95, 2.80, 2.60, 2.70, 2.45,
    4.20, 3.95, 3.70, 3.45, 3.60, 3.40, 3.20, 3.00, 3.05, 2.90, 2.75, 2.55, 2.65, 2.40,
    4.10, 3.90, 3.65, 3.40, 3.70, 3.45, 3.25, 3.05, 3.10, 2.95, 2.80, 2.60, 2.70, 2.45,
    4.03, 3.79, 3.55, 3.31, 3.46, 3.26, 3.07, 2.88, 2.93, 2.78, 2.64, 2.45, 2.54, 2.30,
    3.99, 3.75, 3.52, 3.28, 3.42, 3.23, 3.04, 2.85, 2.90, 2.76, 2.61, 2.42, 2.52, 2.28,
    3.95, 3.71, 3.48, 3.24, 3.38, 3.20, 3.01, 2.82, 2.87, 2.73, 2.59, 2.40, 2.49, 2.26,
]

PANEL_DATA = [(M55_PSA, M55_AMP), (M65_PSA, M65_AMP), (M77_PSA, M77_AMP)]

# ---------------------------------------------------------------- page geometry (px)
W, H = 1054, 1535
PLOT_LEFT, PLOT_RIGHT = 80, 1031
PANEL_TOP = [160, 592, 1024]
PANEL_BOTTOM = [508, 939, 1371]
LEGEND_TOP = [408, 841, 1273]
LEGEND_LEFT = 100
Y_TITLE_X = 42
PSA_RANGE = [-4.054, 1.048]
AMP_RANGES = [[-1.311, 1.063], [-1.300, 1.052], [-1.285, 1.043]]

FONT = "Liberation Sans, Arial, sans-serif"
GRID = "#9a9a9a"
GRID_DASH = "4px,3px"

PSA_MINOR = [d * m for d in PSA_DECADES for m in MINOR_DIGITS]
AMP_MINOR = [d * m for d in AMP_DECADES for m in MINOR_DIGITS]


def px_x(v):
    return v / W


def px_y(v):
    return 1 - v / H


fig = go.Figure()
layout = dict(
    width=W, height=H,
    margin=dict(l=0, r=0, t=0, b=0),
    paper_bgcolor="#fcfcfc",
    plot_bgcolor="#fdfdfd",
    font=dict(family=FONT, color="black"),
    showlegend=True,
)
annotations = []

for i in range(3):
    sfx = "" if i == 0 else str(i + 1)
    psa, amp = PANEL_DATA[i]
    leg = "legend" if i == 0 else f"legend{i + 1}"

    fig.add_trace(go.Scatter(
        x=psa, y=amp, mode="markers", name="Individual Analyses",
        xaxis="x" + sfx, yaxis="y" + sfx, legend=leg,
        marker=dict(symbol="circle-open", size=7, color="black", line=dict(width=1.3, color="black")),
        hoverinfo="x+y",
    ))
    fig.add_trace(go.Scatter(
        x=FIT_PSA, y=FIT_AMP, mode="lines", name="Model Fit",
        xaxis="x" + sfx, yaxis="y" + sfx, legend=leg,
        line=dict(color="#ff0000", width=3.6),
    ))

    common = dict(
        type="log", showline=True, linecolor="black", linewidth=3, mirror="allticks",
        ticks="inside", ticklen=10, tickwidth=1.5, tickcolor="black",
        showgrid=True, gridcolor=GRID, griddash=GRID_DASH, gridwidth=1,
        zeroline=False, automargin=False, tickmode="array",
        tickfont=dict(size=21, color="black", family=FONT),
    )
    layout["xaxis" + sfx] = dict(
        common,
        range=PSA_RANGE,
        domain=[px_x(PLOT_LEFT), px_x(PLOT_RIGHT)],
        anchor="y" + sfx,
        tickvals=PSA_TICK_VALS, ticktext=PSA_TICK_TEXT,
        ticklabelstandoff=-4,
        minor=dict(tickmode="array", tickvals=PSA_MINOR, ticks="inside", ticklen=6,
                   tickwidth=1.5, tickcolor="black", showgrid=True, gridcolor=GRID,
                   griddash=GRID_DASH, gridwidth=1),
        title=dict(text="Input Rock 0.5 Hz PSA (g)", standoff=11,
                   font=dict(size=19.5, weight="bold", family=FONT, color="black")),
    )
    layout["yaxis" + sfx] = dict(
        common,
        range=AMP_RANGES[i],
        domain=[px_y(PANEL_BOTTOM[i]), px_y(PANEL_TOP[i])],
        anchor="x" + sfx,
        tickvals=AMP_TICK_VALS, ticktext=AMP_TICK_TEXT, tickangle=-90,
        ticklabelstandoff=-4,
        minor=dict(tickmode="array", tickvals=AMP_MINOR, ticks="inside", ticklen=6,
                   tickwidth=1.5, tickcolor="black", showgrid=True, gridcolor=GRID,
                   griddash=GRID_DASH, gridwidth=1),
    )
    annotations.append(dict(
        text="Amplification", textangle=-90, showarrow=False,
        xref="paper", yref="paper", x=px_x(Y_TITLE_X),
        y=px_y((PANEL_TOP[i] + PANEL_BOTTOM[i]) / 2),
        xanchor="center", yanchor="middle",
        font=dict(size=19.5, weight="bold", family=FONT, color="black"),
    ))
    layout[leg] = dict(
        x=px_x(LEGEND_LEFT), y=px_y(LEGEND_TOP[i]), xanchor="left", yanchor="top",
        bgcolor="white", bordercolor="black", borderwidth=2,
        font=dict(size=21, family=FONT, color="black"),
        title=dict(text="M\u00a0\u00a0" + MAGNITUDES[i], side="top center",
                   font=dict(size=21, family=FONT, color="black")),
        itemwidth=43, traceorder="normal",
    )

layout["annotations"] = annotations

# window frame along the left and top edges of the page
layout["shapes"] = [
    dict(type="line", xref="paper", yref="paper", x0=px_x(5), x1=px_x(5), y0=0, y1=px_y(2),
         line=dict(color="#222222", width=1.5)),
    dict(type="line", xref="paper", yref="paper", x0=px_x(5), x1=1, y0=px_y(2), y1=px_y(2),
         line=dict(color="#888888", width=1.5)),
]

fig.update_layout(**layout)
fig.write_html("out.html")
